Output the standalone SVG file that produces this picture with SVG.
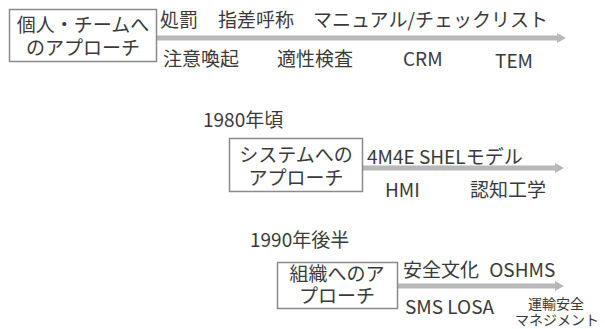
<svg xmlns="http://www.w3.org/2000/svg" width="605" height="329" viewBox="0 0 605 329">
<defs>
<style>
text{font-family:"Noto Sans CJK JP","Noto Sans",sans-serif;fill:#3a3a3a;font-size:19px}
.box{fill:#fff;stroke:#8a8a8a;stroke-width:1.5}
.arr{stroke:#b8b8b8;stroke-width:5;fill:none}
.ah{fill:#b8b8b8}
.c{text-anchor:middle}
.s{font-size:14px;text-anchor:middle}
</style>
</defs>
<rect width="605" height="329" fill="#fff"/>
<g id="connectors">
<line class="arr" x1="157" y1="38" x2="558" y2="38"/>
<polygon class="ah" points="557,33 566,38 557,43"/>
<line class="arr" x1="362" y1="168" x2="556" y2="168"/>
<polygon class="ah" points="555,163 564,168 555,173"/>
<line class="arr" x1="398" y1="286" x2="556" y2="286"/>
<polygon class="ah" points="555,281 564,286 555,291"/>
</g>
<g id="node-individual">
<rect class="box" x="9.5" y="9.5" width="147" height="52"/>
<text class="c" x="83" y="32">個人・チームへ</text>
<text class="c" x="83" y="55">のアプローチ</text>
</g>
<g id="labels-individual">
<text x="160" y="27">処罰</text>
<text x="218" y="27">指差呼称</text>
<text x="313" y="27">マニュアル/チェックリスト</text>
<text x="163" y="66">注意喚起</text>
<text x="277" y="66">適性検査</text>
<text x="403" y="66">CRM</text>
<text x="495" y="68">TEM</text>
</g>
<text x="203" y="127">1980年頃</text>
<g id="node-system">
<rect class="box" x="229.5" y="138.5" width="133" height="53"/>
<text class="c" x="296" y="162">システムへの</text>
<text class="c" x="296" y="185">アプローチ</text>
</g>
<g id="labels-system">
<text x="367" y="164">4M4E SHELモデル</text>
<text x="385" y="197">HMI</text>
<text x="470" y="197">認知工学</text>
</g>
<text x="250" y="247">1990年後半</text>
<g id="node-organization">
<rect class="box" x="277.5" y="262.5" width="120" height="46"/>
<text class="c" x="337" y="281">組織へのア</text>
<text class="c" x="337" y="303">プローチ</text>
</g>
<g id="labels-organization">
<text x="403" y="277" style="word-spacing:6px">安全文化 OSHMS</text>
<text x="405" y="314">SMS LOSA</text>
<text class="s" x="556" y="309">運輸安全</text>
<text class="s" x="557" y="325">マネジメント</text>
</g>
</svg>
